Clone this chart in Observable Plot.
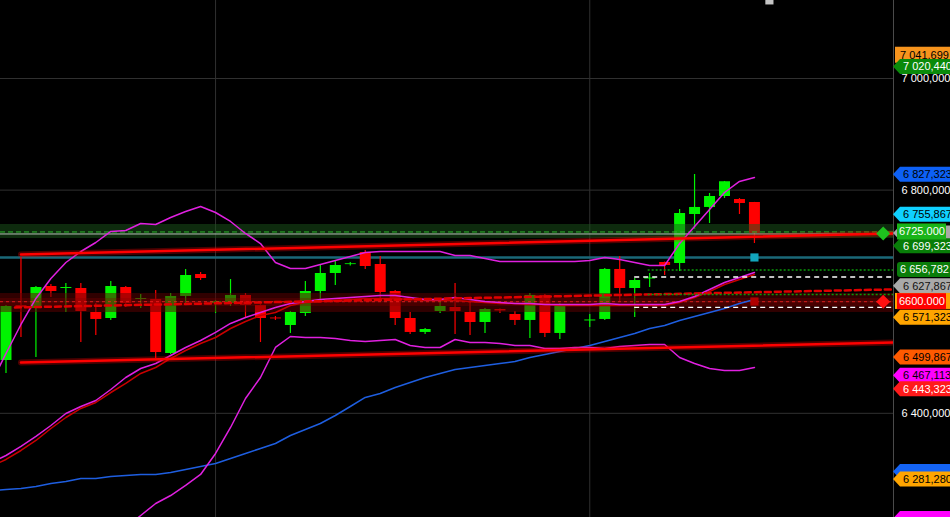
<!DOCTYPE html>
<html>
<head>
<meta charset="utf-8">
<script src="https://cdn.jsdelivr.net/npm/d3@7"></script>
<script src="https://cdn.jsdelivr.net/npm/@observablehq/plot@0.6"></script>
<style>
  html, body { margin: 0; padding: 0; background: #000; overflow: hidden; }
  #chart svg { display: block; }
</style>
</head>
<body>
<div id="chart"></div>
<script>
// ---------- candles (bar index 0..50, bar 38 empty) ----------
const barIndex = d3.range(51);
const openPrices  = [6494.7,6593.2,6587.9,6627.3,6623.7,6623.7,6580.7,6569.9,6625.5,6604.0,6604.0,6507.2,6609.4,6648.8,6596.8,6596.8,6611.2,6593.2,6570.8,6557.4,6578.9,6618.3,6650.6,6666.5,6688.2,6666.7,6618.3,6569.9,6544.9,6582.5,6589.7,6580.7,6562.8,6586.1,6577.1,6566.4,6611.2,6543.1,null,6565.5,6568.2,6657.8,6623.7,6640.7,6670.3,6668.5,6756.3,6768.9,6788.6,6783.2,6777.8];
const highPrices  = [6593.2,6679.3,6627.3,6630.9,6632.7,6632.7,6596.8,6636.2,6627.3,6613.0,6620.1,6614.7,6657.8,6652.4,6602.2,6639.8,6614.7,6594.5,6573.5,6582.5,6636.2,6664.9,6673.9,6670.3,6691.8,6681.1,6620.1,6580.7,6552.0,6605.8,6632.7,6598.6,6587.9,6587.0,6582.5,6614.7,6613.0,6596.8,null,6577.1,6659.5,6681.1,6641.6,6650.6,6671.0,6765.3,6828.0,6794.0,6815.5,6785.0,6778.0];
const lowPrices   = [6471.4,6535.9,6500.1,6607.6,6580.7,6526.9,6539.5,6566.4,6589.7,6587.9,6498.3,6505.4,6596.8,6638.0,6578.9,6591.4,6571.7,6526.9,6566.4,6543.1,6573.5,6604.0,6629.1,6664.0,6657.8,6598.6,6557.4,6541.3,6541.3,6578.9,6541.3,6539.5,6543.1,6578.9,6557.4,6534.1,6535.9,6532.3,null,6553.8,6566.4,6600.4,6571.7,6625.5,6647.0,6654.2,6729.4,6740.2,6785.0,6756.3,6704.3];
const closePrices = [6591.4,6589.7,6625.5,6618.3,6625.5,6582.5,6568.2,6627.3,6596.8,6605.8,6509.0,6609.4,6647.0,6641.6,6600.4,6611.2,6593.2,6569.9,6569.2,6580.7,6618.3,6650.6,6664.9,6668.0,6663.1,6616.5,6569.9,6544.9,6550.2,6591.4,6582.5,6562.8,6586.1,6583.4,6566.4,6611.2,6543.1,6595.0,null,6567.3,6657.8,6623.7,6638.0,6642.5,6664.9,6758.1,6768.9,6788.6,6815.0,6776.0,6722.3];

// ---------- indicators (bar -1 .. 50) ----------
const indicatorBars = d3.range(-1, 51);
const bbUpper  = [6453.5,6507.2,6559.2,6605.8,6641.6,6670.3,6690.0,6706.1,6725.9,6727.6,6740.2,6738.4,6750.9,6761.7,6770.7,6759.9,6743.8,6722.3,6704.3,6670.3,6659.5,6659.5,6666.7,6673.9,6681.1,6688.2,6690.0,6690.0,6690.0,6690.0,6690.0,6682.8,6682.8,6677.5,6672.1,6672.1,6672.1,6672.1,6672.1,6672.1,6673.9,6679.3,6675.7,6670.3,6664.9,6664.9,6704.3,6734.8,6765.3,6795.7,6815.5,6822.6];
const bbMiddle = [6311.9,6324.4,6340.6,6358.5,6378.2,6399.7,6412.2,6423.0,6442.7,6464.2,6480.3,6489.3,6503.6,6518.0,6530.5,6544.9,6561.0,6571.7,6580.7,6589.7,6596.8,6600.4,6604.0,6605.8,6607.6,6609.4,6611.2,6611.2,6607.6,6604.0,6604.0,6607.6,6604.0,6600.4,6598.6,6596.8,6596.8,6595.0,6595.0,6595.0,6595.0,6596.8,6595.0,6595.0,6595.0,6595.0,6600.4,6609.4,6621.9,6634.5,6643.4,6652.4];
const bbLower  = [null,null,null,null,null,null,null,null,6163.1,6195.4,6216.9,6238.4,6252.7,6270.7,6290.4,6328.0,6374.6,6426.6,6464.2,6518.0,6537.7,6535.9,6535.9,6534.1,6530.5,6528.7,6530.5,6532.3,6521.6,6518.0,6518.0,6532.3,6526.9,6526.9,6525.1,6521.6,6521.6,6516.2,6516.2,6518.0,6518.0,6516.2,6519.8,6521.6,6523.3,6523.3,6500.1,6489.3,6480.3,6476.8,6476.8,6482.1];
const maRed    = [6304.7,6317.3,6333.4,6351.3,6372.8,6392.5,6408.7,6419.4,6437.3,6453.5,6471.4,6482.1,6498.3,6512.6,6525.1,6535.9,6552.0,6564.6,6575.3,6580.7,6593.2,6598.6,6600.4,6602.2,6604.0,6605.8,6605.8,6605.8,6604.0,6602.2,6602.2,6602.2,6600.4,6598.6,6596.8,6596.8,6595.0,6595.0,6593.2,6593.2,6593.2,6593.2,6593.2,6593.2,6593.2,6593.2,6598.6,6607.6,6618.3,6630.9,6639.8,6648.8];
const maBlue   = [6261.7,6263.5,6265.3,6268.9,6274.3,6277.8,6283.2,6283.2,6286.8,6288.6,6290.4,6290.4,6294.0,6299.3,6304.7,6310.1,6319.0,6328.0,6337.0,6345.9,6360.3,6371.0,6381.8,6396.1,6412.2,6428.4,6435.5,6446.3,6455.2,6464.2,6471.4,6478.5,6482.1,6485.7,6489.3,6492.9,6500.1,6505.4,6510.8,6516.2,6521.6,6528.7,6535.9,6543.1,6552.0,6557.4,6566.4,6573.5,6580.7,6587.9,6596.8,6604.0];

// ---------- drawn objects ----------
const channelUpper = [{bar: 1, price: 6684.6}, {bar: 60, price: 6722.8}];
const channelLower = [{bar: 1, price: 6491.1}, {bar: 60, price: 6527.3}];
const trendDashed  = [{bar: 0.6, price: 6589.7}, {bar: 60, price: 6622.5}];
const gridLevels = [6400, 6600, 6800, 7000];
const sessionBreaks = [14, 39];
const tealLevel = [6679.3];
const greenZone = [{lo: 6713.3, hi: 6738.4}];
const greenLevel = [6725.0];
const grayLevel = [6721.4];
const redZoneOuter = [{lo: 6580.7, hi: 6614.7}];
const redZoneInner = [{lo: 6591.4, hi: 6605.8}];
const redLevel = [6600.0];
const whiteLevels = [{bar: 42, price: 6644.3}, {bar: 42, price: 6589.7}];
const greenDotLevels = [{bar: 42.9, price: 6656.8}, {bar: 42.9, price: 6613.0}];
const squareMarks = [{bar: 50, price: 6679.3, kind: "teal"}, {bar: 50, price: 6600.4, kind: "red"}, {bar: 51, price: 7140.0, kind: "gray"}];
const alertMarks = [{bar: 58.6, price: 6722.3, kind: "up"}, {bar: 58.6, price: 6600.0, kind: "down"}];
const yTicks = [6400, 6800, 7000];

// price tags on the right axis (hidden: tags whose text the reference does not show)
const tagPrices = [7041.699, 7020.440, 6827.323, 6755.867, 6722.300, 6699.323, 6656.782, 6627.867, 6600.500, 6571.323, 6499.867, 6467.113, 6443.323, 6294.800, 6281.280, 6210.600];
const tagHidden = [false, false, false, false, true, false, false, false, true, false, false, false, false, true, false, true];
const boxPrices = [6725.000, 6600.000];

// ---------- styles ----------
const GREEN = "#00f400", RED = "#ff0000";
const tagFill  = ["#f7941d","#0a8a0a","#0d60f5","#0fd0ff","#a8a8a8","#087d08","#0a7d0a","#a9a9a9","#ffa200","#ffa500","#ff5a00","#ff00ff","#ff1a1a","#1464f4","#ffa500","#ff00ff"];
const tagInk   = ["#000","#fff","#000","#000","#000","#fff","#fff","#111","#000","#000","#000","#000","#fff","#000","#000","#000"];
const tagShape = ["box","arrow","arrow","arrow","arrow","arrow","round","arrow","box","arrow","arrow","arrow","arrow","arrow","arrow","arrow"];
const boxFill = ["#19b419", "#ff0000"];
const squareColor = {teal: "#12a6bd", red: "#b00000", gray: "#c4c4c4"};
const alertColor = {up: "#1ec21e", down: "#ff1010"};

const fmtSpace = v => {
  const [a, b] = v.toFixed(3).split(".");
  return a.replace(/\B(?=(\d{3})+(?!\d))/g, " ") + "," + b;
};

const candles = barIndex
  .map(i => ({bar: i, o: openPrices[i], h: highPrices[i], l: lowPrices[i], c: closePrices[i]}))
  .filter(d => d.o != null);
const candleColor = d => d.c >= d.o ? GREEN : RED;
const ind = indicatorBars.map((b, k) => ({bar: b, up: bbUpper[k], mid: bbMiddle[k], low: bbLower[k], red: maRed[k], blue: maBlue[k]}));

const chart = Plot.plot({
  width: 950, height: 517,
  marginLeft: 0, marginRight: 57, marginTop: 0, marginBottom: 0,
  style: {background: "#000", color: "#fff", fontFamily: "'Liberation Sans', Arial, sans-serif", fontSize: "11px"},
  x: {domain: [-0.367, 59.29], axis: null},
  y: {domain: [6213.3, 7139.8], axis: null},
  marks: [
    Plot.ruleY(gridLevels, {stroke: "#303030", strokeWidth: 1}),
    Plot.ruleX(sessionBreaks, {stroke: "#303030", strokeWidth: 1}),
    Plot.ruleY(tealLevel, {stroke: "#1a6878", strokeWidth: 2.5}),
    // candles
    Plot.ruleX(candles, {x: "bar", y1: "l", y2: "h", stroke: candleColor, strokeWidth: 1.2}),
    Plot.ruleX(candles, {x: "bar", y1: "o", y2: "c", stroke: candleColor, strokeWidth: 11}),
    // zones
    Plot.rect(greenZone, {y1: "lo", y2: "hi", fill: "#1c551c", fillOpacity: 0.5}),
    Plot.ruleY(greenLevel, {stroke: "#2db82d", strokeWidth: 1, strokeDasharray: "5,3"}),
    Plot.ruleY(grayLevel, {stroke: "#b8c0b8", strokeWidth: 1}),
    Plot.rect(redZoneOuter, {y1: "lo", y2: "hi", fill: "#600000", fillOpacity: 0.5}),
    Plot.rect(redZoneInner, {y1: "lo", y2: "hi", fill: "#800000", fillOpacity: 0.3}),
    Plot.ruleY(redLevel, {stroke: "#ff2020", strokeOpacity: 0.8, strokeWidth: 1, strokeDasharray: "3,3"}),
    // indicators
    Plot.line(ind, {x: "bar", y: "blue", stroke: "#1e5ee0", strokeWidth: 1.5, clip: true}),
    Plot.line(ind, {x: "bar", y: "red", stroke: "#c80000", strokeWidth: 1.5, clip: true}),
    Plot.line(ind, {x: "bar", y: "mid", stroke: "#e020e0", strokeWidth: 1.5, clip: true}),
    Plot.line(ind, {x: "bar", y: "up", stroke: "#e020e0", strokeWidth: 1.5, clip: true}),
    Plot.line(ind, {x: "bar", y: "low", stroke: "#e020e0", strokeWidth: 1.5, clip: true}),
    // channel
    Plot.line(channelUpper, {x: "bar", y: "price", stroke: "#ff0000", strokeWidth: 6, strokeOpacity: 0.3, clip: true}),
    Plot.line(channelUpper, {x: "bar", y: "price", stroke: "#ff0000", strokeWidth: 2.5, clip: true}),
    Plot.line(channelLower, {x: "bar", y: "price", stroke: "#ff0000", strokeWidth: 6, strokeOpacity: 0.3, clip: true}),
    Plot.line(channelLower, {x: "bar", y: "price", stroke: "#ff0000", strokeWidth: 2.5, clip: true}),
    Plot.line(trendDashed, {x: "bar", y: "price", stroke: "#e00000", strokeWidth: 2.5, strokeDasharray: "6,4", clip: true}),
    // levels on the right part
    Plot.ruleY(whiteLevels, {y: "price", x1: "bar", x2: 60, stroke: "#fff", strokeWidth: 1.3, strokeDasharray: "5,4", clip: true}),
    Plot.ruleY(greenDotLevels, {y: "price", x1: "bar", x2: 60, stroke: "#0a9a0a", strokeWidth: 1.5, strokeDasharray: "2,2", clip: true}),
    // markers
    Plot.dot(squareMarks, {x: "bar", y: "price", symbol: "square", r: 4.6, fill: d => squareColor[d.kind], stroke: null}),
    Plot.dot(alertMarks, {x: "bar", y: "price", symbol: "diamond2", r: 6.3, fill: d => alertColor[d.kind], stroke: null}),
    Plot.axisY(yTicks, {anchor: "right", tickSize: 0, tickPadding: 8, tickFormat: fmtSpace, fill: "#fff", fontSize: 11})
  ]
});

document.getElementById("chart").appendChild(chart);

// ---------- right-axis decorations through Plot's y scale ----------
const ys = chart.scale("y");
const svg = d3.select(chart);
const edge = 950 - 57;
svg.append("line").attr("x1", edge + 0.5).attr("x2", edge + 0.5).attr("y1", 0).attr("y2", 517)
  .attr("stroke", "#4a4a4a");

const tagLayer = svg.append("g")
  .attr("font-family", "'Liberation Sans', Arial, sans-serif")
  .attr("font-size", 11)
  .attr("text-anchor", "start");
const h = 7.5;
tagPrices.forEach((p, k) => {
  const y = ys.apply(p);
  const g = tagLayer.append("g").attr("transform", `translate(0,${y})`);
  const shape = tagShape[k];
  if (shape === "arrow") {
    g.append("path").attr("d", `M${edge},0L${edge + 7},${-h}L950,${-h}L950,${h}L${edge + 7},${h}Z`).attr("fill", tagFill[k]);
  } else if (shape === "round") {
    g.append("rect").attr("x", edge + 4).attr("y", -h).attr("width", 60).attr("height", 2 * h).attr("rx", 3).attr("fill", tagFill[k]);
  } else {
    g.append("rect").attr("x", edge + 2).attr("y", -h - 0.5).attr("width", 60).attr("height", 2 * h + 1).attr("fill", tagFill[k]);
  }
  if (!tagHidden[k]) {
    g.append("text").attr("x", shape === "arrow" ? edge + 10 : edge + 7).attr("dy", "0.35em")
      .attr("fill", tagInk[k]).text(fmtSpace(p));
  }
});
boxPrices.forEach((p, k) => {
  const y = ys.apply(p);
  const g = tagLayer.append("g").attr("transform", `translate(0,${y})`);
  g.append("rect").attr("x", edge + 4).attr("y", -8).attr("width", 49).attr("height", 16).attr("fill", boxFill[k]);
  g.append("text").attr("x", edge + 6).attr("dy", "0.35em").attr("fill", "#fff").text(p.toFixed(3));
});
</script>
</body>
</html>
